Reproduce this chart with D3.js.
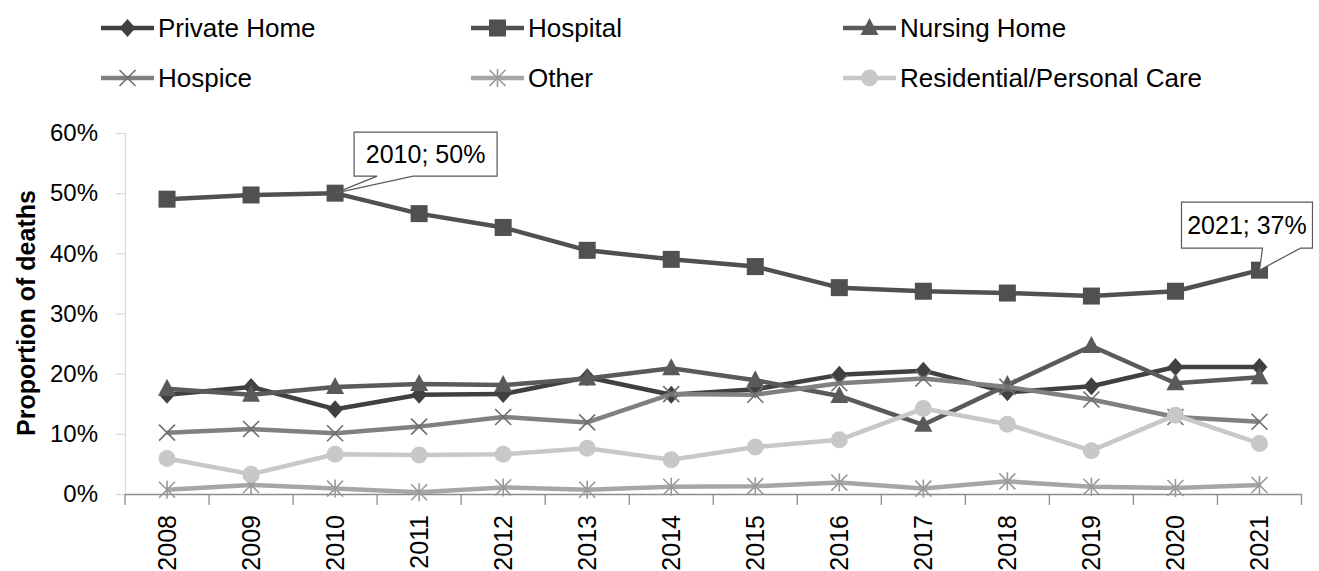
<!DOCTYPE html>
<html>
<head>
<meta charset="utf-8">
<script src="https://cdn.jsdelivr.net/npm/d3@7"></script>
<style>
  body { margin: 0; background: #fff; }
  svg { display: block; font-family: "Liberation Sans", Arial, sans-serif; }
</style>
</head>
<body>
<script>
// data (percent of deaths)
const years = [2008, 2009, 2010, 2011, 2012, 2013, 2014, 2015, 2016, 2017, 2018, 2019, 2020, 2021]
const privateHome = [16.5, 17.8, 14.1, 16.5, 16.6, 19.4, 16.5, 17.4, 19.8, 20.5, 16.9, 17.9, 21.1, 21.1]
const hospital = [49.0, 49.7, 50.0, 46.6, 44.3, 40.5, 39.0, 37.8, 34.3, 33.7, 33.4, 32.9, 33.7, 37.2]
const nursingHome = [17.5, 16.5, 17.8, 18.3, 18.1, 19.2, 20.9, 18.9, 16.3, 11.5, 18.1, 24.6, 18.4, 19.4]
const hospice = [10.2, 10.8, 10.1, 11.2, 12.8, 11.9, 16.6, 16.5, 18.4, 19.2, 17.8, 15.7, 12.8, 12.0]
const other = [0.7, 1.5, 0.9, 0.3, 1.1, 0.7, 1.2, 1.3, 1.9, 0.9, 2.1, 1.2, 1.0, 1.5]
const residential = [5.9, 3.3, 6.6, 6.5, 6.6, 7.6, 5.7, 7.8, 9.0, 14.2, 11.6, 7.2, 13.1, 8.4]
const yTicks = [0, 10, 20, 30, 40, 50, 60]
const callouts = [{ year: 2010, text: '2010; 50%' }, { year: 2021, text: '2021; 37%' }]

const series = [
  { name: 'Private Home', values: privateHome, color: '#404040', marker: 'diamond' },
  { name: 'Hospital', values: hospital, color: '#505050', marker: 'square' },
  { name: 'Nursing Home', values: nursingHome, color: '#5a5a5a', marker: 'triangle' },
  { name: 'Hospice', values: hospice, color: '#808080', marker: 'x', mcolor: '#6e6e6e' },
  { name: 'Other', values: other, color: '#a6a6a6', marker: 'star', mcolor: '#999999' },
  { name: 'Residential/Personal Care', values: residential, color: '#c8c8c8', marker: 'circle' }
]

const W = 1319, H = 571
const svg = d3.select('body').append('svg').attr('width', W).attr('height', H)

let x = d3.scaleBand().domain(years).range([125, 1301.5])
let cx = d => x(d) + x.bandwidth() / 2
let y = d3.scaleLinear().domain([0, 60]).range([494, 133])

// y axis (light)
let yAxis = svg.append('g').attr('transform', 'translate(125,0)')
  .call(d3.axisLeft(y).tickValues(yTicks).tickSize(9).tickPadding(18).tickFormat(d => d + '%'))
yAxis.select('.domain').attr('stroke', '#d9d9d9').attr('stroke-width', 1.2)
yAxis.selectAll('.tick line').attr('stroke', '#d9d9d9').attr('stroke-width', 1.2)
yAxis.selectAll('.tick text').attr('font-size', 24).attr('fill', '#000')
  .attr('font-family', '"Liberation Sans", Arial, sans-serif')

// x axis
let xAxis = svg.append('g').attr('transform', 'translate(0,494)')
  .call(d3.axisBottom(x).tickSize(0).tickFormat(''))
xAxis.select('.domain').attr('stroke', '#8c8c8c').attr('stroke-width', 1.3)
svg.append('g').selectAll('line')
  .data(years.map(d => x(d)).concat([x.range()[1]]))
  .join('line')
  .attr('x1', d => d).attr('x2', d => d)
  .attr('y1', 494).attr('y2', 505)
  .attr('stroke', '#8c8c8c').attr('stroke-width', 1.3)
svg.append('g').selectAll('text').data(years).join('text')
  .attr('transform', d => `translate(${cx(d) + 9},515) rotate(-90)`)
  .attr('text-anchor', 'end')
  .attr('font-size', 25)
  .text(d => d)

// axis title
svg.append('text')
  .attr('transform', 'translate(35,313) rotate(-90)')
  .attr('text-anchor', 'middle')
  .attr('font-size', 25).attr('font-weight', 'bold')
  .text('Proportion of deaths')

let line = d3.line().x((d, i) => cx(years[i])).y(d => y(d))

let drawMarker = (g, type, color, mcolor) => {
  if (type === 'square') {
    g.append('rect').attr('x', -8.5).attr('y', -8.5).attr('width', 17).attr('height', 17).attr('fill', color)
  } else if (type === 'diamond') {
    g.append('path').attr('d', 'M0,-9L8,0L0,9L-8,0Z').attr('fill', color)
  } else if (type === 'triangle') {
    g.append('path').attr('d', 'M0,-10L9,7L-9,7Z').attr('fill', color)
  } else if (type === 'circle') {
    g.append('circle').attr('r', 8.5).attr('fill', color)
  } else if (type === 'x') {
    g.append('path').attr('d', 'M-8,-8L8,8M-8,8L8,-8').attr('stroke', mcolor).attr('stroke-width', 1.6).attr('fill', 'none')
  } else if (type === 'star') {
    g.append('path').attr('d', 'M-8,-8L8,8M-8,8L8,-8M0,-9L0,9').attr('stroke', mcolor).attr('stroke-width', 1.6).attr('fill', 'none')
  }
}

series.forEach(s => {
  let g = svg.append('g')
  g.append('path').datum(s.values)
    .attr('d', line)
    .attr('fill', 'none')
    .attr('stroke', s.color)
    .attr('stroke-width', 4.5)
    .attr('stroke-linejoin', 'round')
  g.selectAll('g.m').data(s.values).join('g')
    .attr('class', 'm')
    .attr('transform', (d, i) => `translate(${cx(years[i])},${y(d)})`)
    .each(function () { drawMarker(d3.select(this), s.marker, s.color, s.mcolor) })
})

// callouts on the hospital series
let boxes = [
  { dx: 19, dy: -61, w: 143, h: 44, w1: 42, w2: 78 },
  { dx: -78, dy: -68, w: 131, h: 46, w1: 3, w2: 41 }
]
callouts.forEach((c, k) => {
  let px = cx(c.year), py = y(hospital[years.indexOf(c.year)])
  let b = boxes[k]
  let l = px + b.dx, t = py + b.dy, r = l + b.w, bt = t + b.h
  let p = d3.path()
  p.moveTo(l, t); p.lineTo(r, t); p.lineTo(r, bt)
  p.lineTo(px + b.w2, bt); p.lineTo(px, py); p.lineTo(px + b.w1, bt)
  p.lineTo(l, bt); p.closePath()
  svg.append('path').attr('d', p.toString()).attr('fill', '#fff').attr('stroke', '#595959').attr('stroke-width', 1.2)
  svg.append('text').attr('x', l + b.w / 2).attr('y', t + b.h / 2 + 9)
    .attr('text-anchor', 'middle').attr('font-size', 25).text(c.text)
})

// legend
let legendPos = [[101, 28], [471, 28], [843, 28], [101, 78], [471, 78], [843, 78]]
series.forEach((s, i) => {
  let [lx, ly] = legendPos[i]
  let g = svg.append('g').attr('transform', `translate(${lx},${ly})`)
  g.append('line').attr('x1', 0).attr('x2', 53).attr('stroke', s.color).attr('stroke-width', 4.5)
  drawMarker(g.append('g').attr('transform', 'translate(26.5,0)'), s.marker, s.color, s.mcolor)
  g.append('text').attr('x', 57).attr('y', 9).attr('font-size', 26).text(s.name)
})
</script>
</body>
</html>
